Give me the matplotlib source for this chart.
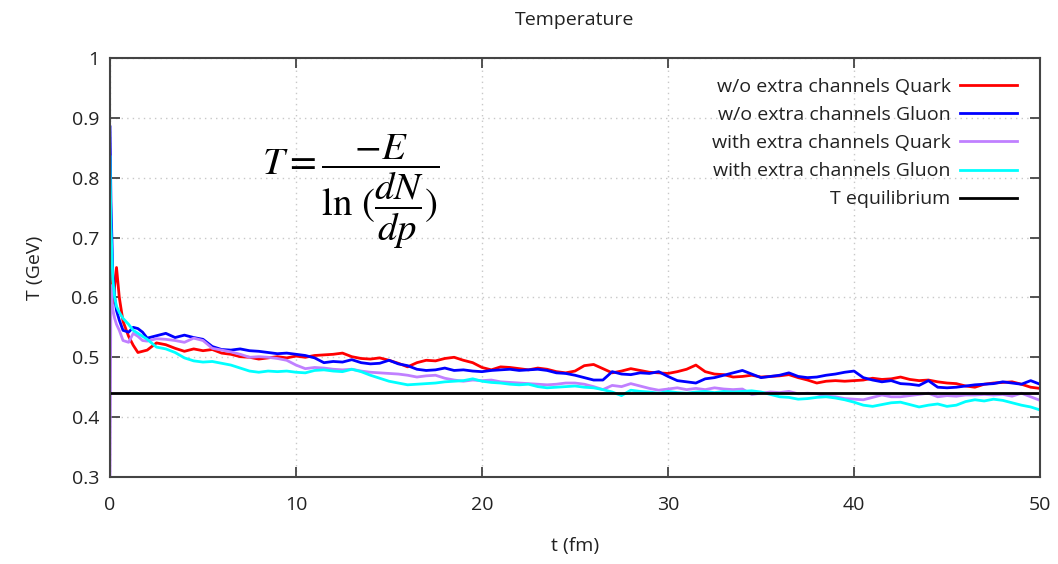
import numpy as np
import matplotlib
matplotlib.use("Agg")
import matplotlib.pyplot as plt

plt.rcParams['font.family'] = ['Open Sans', 'DejaVu Sans']
plt.rcParams['mathtext.fontset'] = 'stix'

### time grid (fm): fine steps at the start, then every 0.5 fm
t_early = [0, 0.05, 0.15, 0.25, 0.35, 0.5, 0.7, 1.0, 1.25, 1.5, 1.75]
t = np.concatenate([t_early, np.arange(2.0, 50.01, 0.5)])

### temperatures (GeV)
quark_wo = [0.69, 0.60, 0.59, 0.62, 0.65, 0.60, 0.56, 0.535, 0.52, 0.508, 0.51,
            0.512, 0.524, 0.521, 0.515, 0.510, 0.514, 0.511, 0.513, 0.507, 0.505, 0.501, 0.500, 0.497, 0.499, 0.501, 0.499, 0.502,
            0.500, 0.503, 0.504, 0.505, 0.507, 0.501, 0.498, 0.497, 0.499, 0.495, 0.490, 0.484, 0.491, 0.495, 0.494, 0.498, 0.500, 0.495, 0.491, 0.483,
            0.479, 0.484, 0.483, 0.481, 0.479, 0.482, 0.480, 0.476, 0.474, 0.477, 0.486, 0.488, 0.481, 0.474, 0.477, 0.481, 0.478, 0.475, 0.474, 0.473,
            0.476, 0.480, 0.487, 0.476, 0.472, 0.471, 0.467, 0.468, 0.470, 0.467, 0.468, 0.469, 0.471, 0.466, 0.462, 0.457, 0.460, 0.461, 0.460, 0.461,
            0.462, 0.465, 0.463, 0.464, 0.467, 0.463, 0.461, 0.462, 0.459, 0.457, 0.456, 0.452, 0.450, 0.455, 0.457, 0.458, 0.459, 0.455, 0.450, 0.448]

gluon_wo = [0.885, 0.76, 0.64, 0.60, 0.578, 0.562, 0.545, 0.542, 0.55, 0.548, 0.542,
            0.532, 0.536, 0.540, 0.533, 0.537, 0.533, 0.530, 0.518, 0.513, 0.512, 0.514, 0.511, 0.510, 0.508, 0.506, 0.507, 0.505,
            0.503, 0.499, 0.491, 0.493, 0.492, 0.496, 0.491, 0.489, 0.490, 0.495, 0.489, 0.486, 0.480, 0.478, 0.479, 0.482, 0.478, 0.479, 0.477, 0.476,
            0.478, 0.479, 0.480, 0.478, 0.479, 0.480, 0.478, 0.474, 0.473, 0.470, 0.466, 0.462, 0.462, 0.476, 0.472, 0.471, 0.474, 0.473, 0.476, 0.468,
            0.461, 0.459, 0.457, 0.464, 0.466, 0.470, 0.474, 0.478, 0.472, 0.466, 0.468, 0.470, 0.474, 0.468, 0.466, 0.467, 0.470, 0.472, 0.475, 0.477,
            0.466, 0.462, 0.459, 0.461, 0.456, 0.455, 0.453, 0.461, 0.450, 0.449, 0.450, 0.452, 0.454, 0.455, 0.456, 0.459, 0.457, 0.455, 0.461, 0.455]

quark_with = [0.30, 0.62, 0.58, 0.565, 0.555, 0.545, 0.528, 0.525, 0.54, 0.535, 0.528,
              0.527, 0.531, 0.530, 0.528, 0.525, 0.532, 0.528, 0.515, 0.512, 0.509, 0.505, 0.500, 0.501, 0.500, 0.498, 0.495, 0.487,
              0.481, 0.483, 0.482, 0.480, 0.479, 0.480, 0.477, 0.475, 0.474, 0.473, 0.472, 0.470, 0.467, 0.469, 0.470, 0.465, 0.462, 0.460, 0.462, 0.461,
              0.462, 0.459, 0.458, 0.457, 0.456, 0.455, 0.454, 0.455, 0.457, 0.457, 0.455, 0.451, 0.446, 0.453, 0.451, 0.456, 0.452, 0.448, 0.445, 0.447,
              0.449, 0.446, 0.448, 0.446, 0.449, 0.447, 0.446, 0.447, 0.438, 0.440, 0.442, 0.441, 0.443, 0.439, 0.440, 0.439, 0.435, 0.434, 0.431, 0.430,
              0.429, 0.433, 0.437, 0.434, 0.434, 0.436, 0.438, 0.440, 0.434, 0.436, 0.435, 0.437, 0.437, 0.438, 0.437, 0.438, 0.435, 0.440, 0.434, 0.428]

gluon_with = [0.835, 0.72, 0.63, 0.60, 0.585, 0.575, 0.565, 0.555, 0.545, 0.540, 0.535,
              0.530, 0.517, 0.514, 0.508, 0.499, 0.494, 0.492, 0.493, 0.490, 0.487, 0.482, 0.477, 0.475, 0.477, 0.476, 0.477, 0.475,
              0.474, 0.478, 0.479, 0.477, 0.476, 0.480, 0.476, 0.470, 0.465, 0.460, 0.457, 0.454, 0.455, 0.456, 0.457, 0.459, 0.460, 0.461, 0.464, 0.460,
              0.458, 0.457, 0.455, 0.454, 0.455, 0.451, 0.449, 0.450, 0.451, 0.452, 0.450, 0.449, 0.446, 0.442, 0.436, 0.445, 0.443, 0.442, 0.440, 0.443,
              0.441, 0.440, 0.442, 0.443, 0.441, 0.443, 0.442, 0.443, 0.444, 0.442, 0.438, 0.434, 0.433, 0.430, 0.431, 0.433, 0.434, 0.432, 0.429, 0.425,
              0.420, 0.418, 0.421, 0.424, 0.425, 0.421, 0.417, 0.420, 0.422, 0.418, 0.420, 0.426, 0.429, 0.427, 0.430, 0.428, 0.424, 0.420, 0.417, 0.412]

T_eq = 0.44

labels = ["w/o extra channels Quark", "w/o extra channels Gluon",
          "with extra channels Quark", "with extra channels Gluon", "T equilibrium"]
colors = ["#ff0000", "#0000ff", "#c080ff", "#00ffff", "#000000"]

fig = plt.figure(figsize=(10.58, 5.64), dpi=100)
ax = fig.add_axes([110/1058, 1 - 477/564, 930/1058, 419/564])

for y, lab, c in zip([quark_wo, gluon_wo, quark_with, gluon_with], labels[:4], colors[:4]):
    ax.plot(t, y, color=c, lw=2.0, label=lab)
ax.axhline(T_eq, color=colors[4], lw=2.0, label=labels[4])

ax.set_xlim(0, 50)
ax.set_ylim(0.3, 1.0)
ax.set_xticks([0, 10, 20, 30, 40, 50])
ax.set_yticks([0.3, 0.4, 0.5, 0.6, 0.7, 0.8, 0.9, 1.0])
ax.set_yticklabels(["0.3", "0.4", "0.5", "0.6", "0.7", "0.8", "0.9", "1"])
ax.tick_params(direction='in', length=7, width=1.3, color='#444444', labelsize=14,
               top=True, right=True, labelcolor='#222222')
ax.tick_params(axis='x', pad=14)
ax.tick_params(axis='y', pad=8)
ax.grid(True, color='#c8c8c8', linestyle=(0, (1, 3)), lw=1.0)
for s in ax.spines.values():
    s.set_color('#444444')
    s.set_linewidth(1.5)

ax.set_title("Temperature", fontsize=14, pad=24, color='#222222')
ax.set_xlabel("t (fm)", fontsize=14, labelpad=16, color='#222222')
ax.set_ylabel("T (GeV)", fontsize=14, labelpad=20, color='#222222')

ax.text(0.163, 0.68, r'$T=\dfrac{-E}{\ln\,(\dfrac{dN}{dp})}$', transform=ax.transAxes,
        fontsize=28, ha='left', va='center')

leg = ax.legend(loc='upper right', bbox_to_anchor=(1.0, 1.008), markerfirst=False,
                frameon=False, fontsize=14, handlelength=2.9, handletextpad=0.5,
                labelspacing=0.52, borderaxespad=0.8)
for txt in leg.get_texts():
    txt.set_color('#222222')

fig.savefig("out.png", dpi=100)
